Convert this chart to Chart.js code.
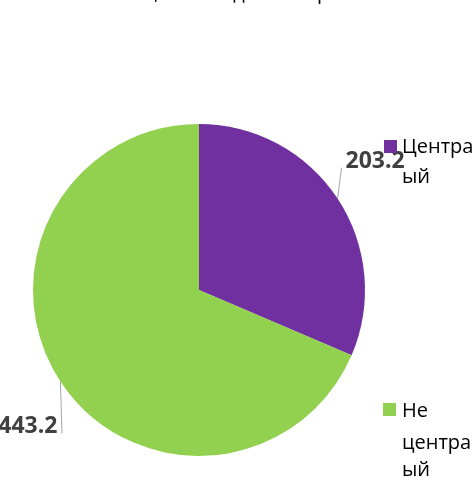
<!DOCTYPE html>
<html lang="ru">
<head>
  <meta charset="UTF-8">
  <title>Диаграмма</title>
  <style>
    html, body { margin: 0; padding: 0; background: #fff; }
    canvas { display: block; }
  </style>
</head>
<body>
  <canvas id="grafico" width="474" height="477"></canvas>

  <script src="https://cdn.jsdelivr.net/npm/chart.js"></script>
  <script>
    // данные
    const titulo = 'Отопление, кол-во домов в районе';
    const categorias = ['Центральный', 'Не центральный'];
    const valores = [203.2, 443.2];
    const cores = ['#7030A0', '#92D050'];
    // подписи легенды как они видны на рисунке (перенос и обрезка справа)
    const legendaLinhas = [['Центра', 'ый'], ['Не', 'центра', 'ый']];

    const rotulos = {
      id: 'rotulos',
      afterDraw(chart) {
        const ctx = chart.ctx;
        const arcs = chart.getDatasetMeta(0).data;
        ctx.save();

        // заголовок (почти весь за верхним краем)
        ctx.font = '20px "Open Sans"';
        ctx.fillStyle = '#000';
        ctx.textAlign = 'left';
        ctx.textBaseline = 'alphabetic';
        const antes = ctx.measureText(titulo.split(',')[0]).width;
        ctx.fillText(titulo, 154 - antes, -1);

        // подписи значений с линиями выноски
        const desvios = [
          { lx: 4, ly: -31, tx: 8, ty: -31, align: 'left' },
          { lx: 1.5, ly: 52, tx: -3, ty: 52, align: 'right' }
        ];
        arcs.forEach((arc, i) => {
          const p = arc.getProps(['x', 'y', 'startAngle', 'endAngle', 'outerRadius'], true);
          const meio = (p.startAngle + p.endAngle) / 2;
          const ex = p.x + Math.cos(meio) * p.outerRadius;
          const ey = p.y + Math.sin(meio) * p.outerRadius;
          const d = desvios[i];
          ctx.strokeStyle = '#a6a6a6';
          ctx.lineWidth = 1;
          ctx.beginPath();
          ctx.moveTo(ex, ey);
          ctx.lineTo(ex + d.lx, ey + d.ly);
          ctx.stroke();
          ctx.font = 'bold 23px "Open Sans"';
          ctx.fillStyle = '#404040';
          ctx.textAlign = d.align;
          ctx.fillText(valores[i].toFixed(1), ex + d.tx, ey + d.ty);
        });

        // легенда
        const legenda = [
          { x: 384, y: 140, linhas: [153, 183] },
          { x: 383, y: 403, linhas: [417, 449, 476] }
        ];
        ctx.textAlign = 'left';
        ctx.font = '20px "Open Sans"';
        legenda.forEach((item, i) => {
          ctx.fillStyle = cores[i];
          ctx.fillRect(item.x, item.y, 13, 13);
          ctx.fillStyle = '#000';
          legendaLinhas[i].forEach((txt, j) => {
            ctx.fillText(txt, 402, item.linhas[j]);
          });
        });
        ctx.restore();
      }
    };

    new Chart(document.getElementById('grafico'), {
      type: 'pie',
      data: {
        labels: categorias,
        datasets: [{
          data: valores,
          backgroundColor: cores,
          borderWidth: 0
        }]
      },
      options: {
        responsive: false,
        animation: false,
        layout: { padding: { left: 33, right: 109, top: 124, bottom: 21 } },
        plugins: {
          legend: { display: false },
          tooltip: { enabled: false }
        }
      },
      plugins: [rotulos]
    });
  </script>
</body>
</html>
